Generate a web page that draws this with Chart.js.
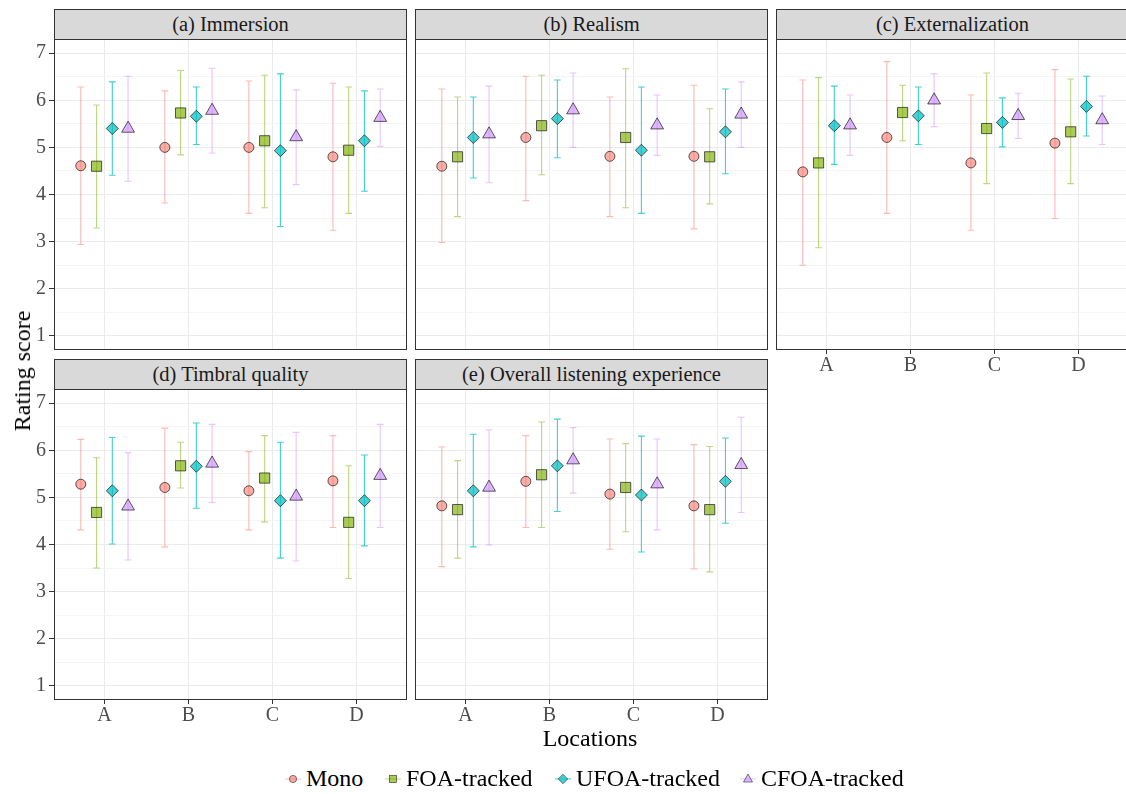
<!DOCTYPE html>
<html>
<head>
<meta charset="utf-8">
<script src="https://cdn.jsdelivr.net/npm/chart.js@4.4.1/dist/chart.umd.min.js"></script>
<style>
html,body{margin:0;padding:0;background:#fff;}
#wrap{position:relative;width:1126px;height:794px;overflow:hidden;background:#fff;font-family:"Liberation Serif","Times New Roman",serif;}
#wrap canvas{position:absolute;}
.strip{position:absolute;box-sizing:border-box;background:#D9D9D9;border:1px solid #333;color:#1A1A1A;font-size:20.5px;text-align:center;line-height:28px;white-space:nowrap;}
.axt{position:absolute;color:#000;font-size:24px;line-height:24px;white-space:nowrap;}
.leg{position:absolute;color:#000;font-size:24px;line-height:24px;white-space:nowrap;}
.legsym{position:absolute;}
</style>
</head>
<body>
<div id="wrap"></div>
<script>
// ---------- data ----------
const categories = ['A', 'B', 'C', 'D'];
const seriesNames = ['Mono', 'FOA-tracked', 'UFOA-tracked', 'CFOA-tracked'];
const panelTitles = ['(a) Immersion', '(b) Realism', '(c) Externalization', '(d) Timbral quality', '(e) Overall listening experience'];
const yTickLabels = [1, 2, 3, 4, 5, 6, 7];
const xAxisTitle = 'Locations';
const yAxisTitle = 'Rating score';

// rows: Mono, FOA, UFOA, CFOA ; columns: A, B, C, D
const immersionMean = [[4.61, 5.00, 5.00, 4.80], [4.60, 5.73, 5.14, 4.94], [5.40, 5.66, 4.93, 5.14], [5.40, 5.78, 5.22, 5.63]];
const immersionLow  = [[2.94, 3.82, 3.60, 3.24], [3.29, 4.84, 3.72, 3.60], [4.41, 5.06, 3.32, 4.07], [4.28, 4.88, 4.21, 5.02]];
const immersionHigh = [[6.28, 6.20, 6.41, 6.36], [5.90, 6.63, 6.53, 6.28], [6.39, 6.28, 6.56, 6.20], [6.51, 6.68, 6.22, 6.24]];

const realismMean = [[4.60, 5.21, 4.81, 4.81], [4.80, 5.46, 5.21, 4.80], [5.21, 5.61, 4.94, 5.33], [5.28, 5.79, 5.47, 5.70]];
const realismLow  = [[2.98, 3.87, 3.53, 3.27], [3.53, 4.42, 3.72, 3.80], [4.35, 4.78, 3.60, 4.44], [4.25, 5.00, 4.83, 5.00]];
const realismHigh = [[6.24, 6.51, 6.07, 6.32], [6.07, 6.53, 6.67, 5.82], [6.07, 6.43, 6.28, 6.24], [6.30, 6.58, 6.11, 6.39]];

const externalMean = [[4.48, 5.21, 4.67, 5.09], [4.67, 5.74, 5.40, 5.33], [5.46, 5.67, 5.53, 5.87], [5.47, 6.00, 5.67, 5.58]];
const externalLow  = [[2.50, 3.60, 3.24, 3.49], [2.87, 5.14, 4.23, 4.23], [4.64, 5.06, 5.01, 5.24], [4.83, 5.44, 5.19, 5.06]];
const externalHigh = [[6.43, 6.82, 6.11, 6.65], [6.48, 6.32, 6.58, 6.45], [6.30, 6.28, 6.05, 6.51], [6.11, 6.56, 6.15, 6.09]];

const timbralMean = [[5.28, 5.21, 5.14, 5.35], [4.68, 5.67, 5.41, 4.47], [5.14, 5.66, 4.93, 4.93], [4.81, 5.72, 5.02, 5.46]];
const timbralLow  = [[4.31, 3.95, 4.31, 4.36], [3.50, 5.20, 4.48, 3.28], [4.01, 4.77, 3.71, 3.97], [3.67, 4.89, 3.65, 4.36]];
const timbralHigh = [[6.23, 6.47, 5.97, 6.31], [5.84, 6.17, 6.31, 5.67], [6.27, 6.58, 6.17, 5.90], [5.95, 6.55, 6.38, 6.55]];

const overallMean = [[4.82, 5.34, 5.07, 4.82], [4.74, 5.48, 5.21, 4.74], [5.14, 5.67, 5.05, 5.34], [5.21, 5.79, 5.28, 5.69]];
const overallLow  = [[3.53, 4.36, 3.90, 3.48], [3.71, 4.36, 4.27, 3.42], [3.95, 4.70, 3.84, 4.45], [3.99, 5.09, 4.31, 4.68]];
const overallHigh = [[6.07, 6.31, 6.24, 6.12], [5.78, 6.60, 6.14, 6.08], [6.34, 6.66, 6.30, 6.26], [6.43, 6.48, 6.24, 6.70]];

// ---------- styles ----------
const pointStyles = ['circle', 'rect', 'rectRot', 'triangle'];
const pointRadii  = [5, 7.2, 6, 7.4];
const pointFills  = ['rgba(248,118,109,0.6)', 'rgba(124,174,0,0.65)', 'rgba(0,191,196,0.72)', 'rgba(199,124,255,0.55)'];
const errColors   = ['rgba(248,118,109,0.5)', 'rgba(124,174,0,0.5)', 'rgba(0,191,196,0.75)', 'rgba(199,124,255,0.45)'];
const pointBorder = 'rgba(0,0,0,0.62)';
const dodgeWidth = 0.75;
const capHalf = 0.04;
const FONT = '"Liberation Serif", "Times New Roman", serif';
Chart.defaults.font.family = FONT;

const panels = [
  {title: panelTitles[0], mean: immersionMean, low: immersionLow, high: immersionHigh, col: 0, row: 0, showX: false, showY: true},
  {title: panelTitles[1], mean: realismMean,   low: realismLow,   high: realismHigh,   col: 1, row: 0, showX: false, showY: false},
  {title: panelTitles[2], mean: externalMean,  low: externalLow,  high: externalHigh,  col: 2, row: 0, showX: true,  showY: false},
  {title: panelTitles[3], mean: timbralMean,   low: timbralLow,   high: timbralHigh,   col: 0, row: 1, showX: true,  showY: true},
  {title: panelTitles[4], mean: overallMean,   low: overallLow,   high: overallHigh,   col: 1, row: 1, showX: true,  showY: false}
];

// ---------- layout ----------
const colLeft = [54, 415, 776];
const plotTop = [39, 389];
const PW = 353, PH = 311, STRIP = 31;

const wrap = document.getElementById('wrap');
const yGridValues = [];
yTickLabels.forEach((v, i) => { yGridValues.push(v); if (i < yTickLabels.length - 1) yGridValues.push((v + yTickLabels[i + 1]) / 2); });
const isMajor = v => yTickLabels.indexOf(v) >= 0;
const dodgeOffset = si => (si - (seriesNames.length - 1) / 2) * dodgeWidth / seriesNames.length;

const errorBarPlugin = {
  id: 'errorBars',
  beforeDatasetsDraw(chart) {
    const {ctx, scales: {x, y}} = chart;
    chart.data.datasets.forEach(ds => {
      ctx.save();
      ctx.strokeStyle = ds.errColor;
      ctx.lineWidth = 1.1;
      ds.data.forEach(p => {
        const px = x.getPixelForValue(p.x);
        const hw = x.getPixelForValue(p.x + capHalf) - px;
        const yl = y.getPixelForValue(p.lo), yh = y.getPixelForValue(p.hi);
        ctx.beginPath();
        ctx.moveTo(px, yl); ctx.lineTo(px, yh);
        ctx.moveTo(px - hw, yl); ctx.lineTo(px + hw, yl);
        ctx.moveTo(px - hw, yh); ctx.lineTo(px + hw, yh);
        ctx.stroke();
      });
      ctx.restore();
    });
  }
};
const framePlugin = {
  id: 'frame',
  afterDraw(chart) {
    const a = chart.chartArea, ctx = chart.ctx;
    ctx.save();
    ctx.strokeStyle = '#333';
    ctx.lineWidth = 1;
    ctx.strokeRect(Math.round(a.left) + 0.5, Math.round(a.top) + 0.5, Math.round(a.right - a.left) - 1, Math.round(a.bottom - a.top) - 1);
    ctx.restore();
  }
};

panels.forEach(p => {
  const yW = p.showY ? 54 : 0, padL = p.showY ? 0 : 2;
  const xH = p.showX ? 30 : 0, padB = p.showX ? 0 : 2;
  const W = padL + yW + PW + 2, H = 2 + PH + xH + padB;
  const left = colLeft[p.col], top = plotTop[p.row];

  const strip = document.createElement('div');
  strip.className = 'strip';
  strip.style.left = left + 'px';
  strip.style.top = (top - STRIP + 1) + 'px';
  strip.style.width = PW + 'px';
  strip.style.height = STRIP + 'px';
  strip.textContent = p.title;
  wrap.appendChild(strip);

  const cv = document.createElement('canvas');
  cv.width = W; cv.height = H;
  cv.style.width = W + 'px'; cv.style.height = H + 'px';
  cv.style.left = (left - yW - padL) + 'px';
  cv.style.top = (top - 2) + 'px';
  wrap.appendChild(cv);

  new Chart(cv, {
    type: 'scatter',
    data: {
      datasets: seriesNames.map((name, si) => ({
        label: name,
        data: categories.map((c, ci) => ({x: ci + 1 + dodgeOffset(si), y: p.mean[si][ci], lo: p.low[si][ci], hi: p.high[si][ci]})),
        pointStyle: pointStyles[si],
        pointRadius: pointRadii[si],
        pointHoverRadius: pointRadii[si],
        backgroundColor: pointFills[si],
        borderColor: pointBorder,
        borderWidth: 1,
        errColor: errColors[si]
      }))
    },
    options: {
      responsive: false,
      animation: false,
      devicePixelRatio: 1,
      events: [],
      layout: {autoPadding: false, padding: {left: padL, right: 2, top: 2, bottom: padB}},
      plugins: {legend: {display: false}, tooltip: {enabled: false}, title: {display: false}},
      scales: {
        x: {
          type: 'linear', min: 0.4, max: 4.6,
          afterBuildTicks: s => { s.ticks = categories.map((c, i) => ({value: i + 1})); },
          afterFit: s => { s.height = xH; s.paddingLeft = 0; s.paddingRight = 0; },
          ticks: {display: p.showX, autoSkip: false, maxRotation: 0, padding: 0, color: '#4D4D4D',
                  font: {family: FONT, size: 20}, callback: v => categories[v - 1] || ''},
          grid: {color: '#EBEBEB', lineWidth: 1, drawTicks: p.showX, tickLength: 4, tickColor: '#333'},
          border: {display: false}
        },
        y: {
          type: 'linear', min: 0.7, max: 7.3,
          afterBuildTicks: s => { s.ticks = yGridValues.map(v => ({value: v})); },
          afterFit: s => { s.width = yW; s.paddingTop = 0; s.paddingBottom = 0; },
          ticks: {display: p.showY, autoSkip: false, padding: 3, color: '#4D4D4D',
                  font: {family: FONT, size: 20}, callback: v => isMajor(v) ? String(v) : ''},
          grid: {
            color: c => (c.tick && isMajor(c.tick.value)) ? '#EBEBEB' : '#F4F4F4',
            lineWidth: 1,
            drawTicks: p.showY, tickLength: 5,
            tickColor: c => (c.tick && isMajor(c.tick.value)) ? '#333' : 'rgba(0,0,0,0)'
          },
          border: {display: false}
        }
      }
    },
    plugins: [errorBarPlugin, framePlugin]
  });
});

// axis titles
const yt = document.createElement('div');
yt.className = 'axt';
yt.textContent = yAxisTitle;
yt.style.left = '22px'; yt.style.top = '371px';
yt.style.transform = 'translate(-50%,-50%) rotate(-90deg)';
wrap.appendChild(yt);

const xt = document.createElement('div');
xt.className = 'axt';
xt.textContent = xAxisTitle;
xt.style.left = '590px'; xt.style.top = '738px';
xt.style.transform = 'translate(-50%,-50%)';
wrap.appendChild(xt);

// legend
const legSymX = [293, 393, 563, 748];
const legY = 779;
function legendSymbol(si) {
  const s = pointStyles[si];
  let shape = '';
  if (s === 'circle') shape = '<circle cx="10" cy="10" r="3.6"/>';
  else if (s === 'rect') shape = '<rect x="6.5" y="6.5" width="7" height="7"/>';
  else if (s === 'rectRot') shape = '<polygon points="10,5.3 14.7,10 10,14.7 5.3,10"/>';
  else shape = '<polygon points="10,5 14.5,13 5.5,13"/>';
  return '<svg width="20" height="20" xmlns="http://www.w3.org/2000/svg">' +
    '<line x1="2" y1="10" x2="18" y2="10" stroke="' + errColors[si] + '" stroke-width="1"/>' +
    '<g fill="' + pointFills[si] + '" stroke="' + pointBorder + '" stroke-width="0.8">' + shape + '</g></svg>';
}
seriesNames.forEach((name, si) => {
  const sym = document.createElement('div');
  sym.className = 'legsym';
  sym.style.left = (legSymX[si] - 10) + 'px';
  sym.style.top = (legY - 10) + 'px';
  sym.innerHTML = legendSymbol(si);
  wrap.appendChild(sym);
  const t = document.createElement('div');
  t.className = 'leg';
  t.textContent = name;
  t.style.left = (legSymX[si] + 13) + 'px';
  t.style.top = (legY - 13) + 'px';
  wrap.appendChild(t);
});
</script>
</body>
</html>
